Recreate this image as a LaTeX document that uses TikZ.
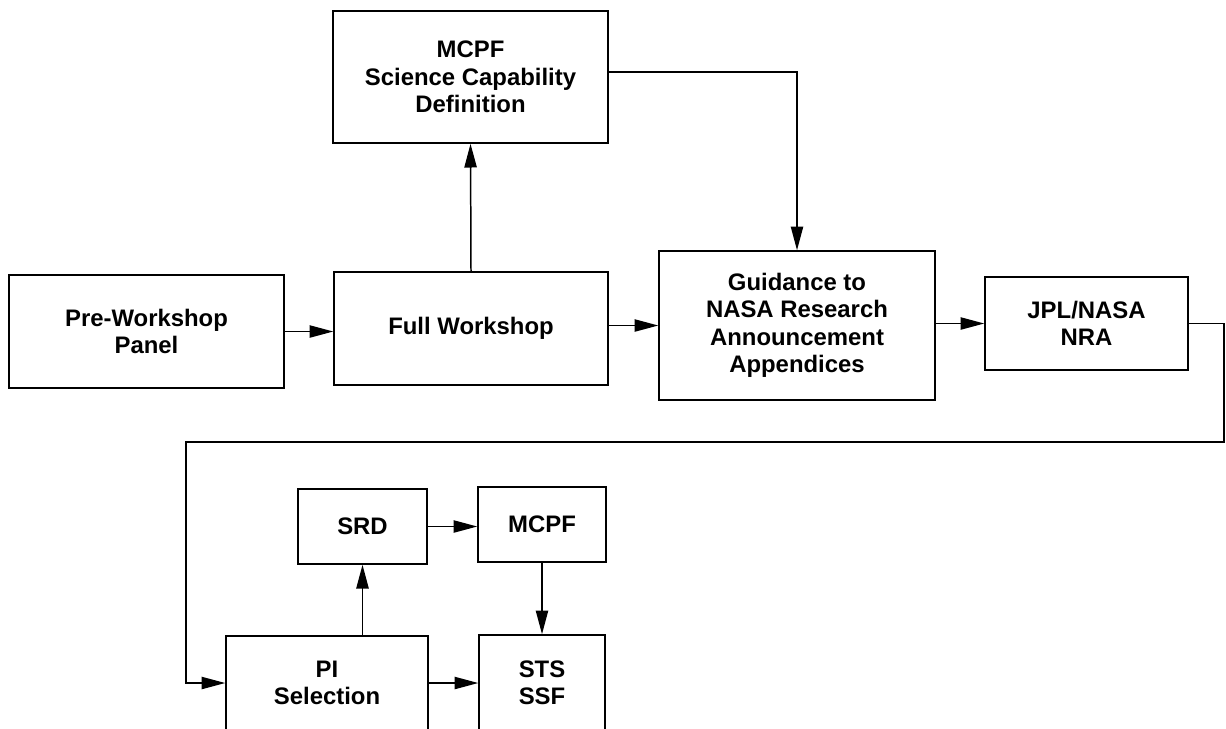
\documentclass[tikz,border=0pt]{standalone}
\usepackage{fontspec}
\setmainfont{Liberation Sans}
\usetikzlibrary{arrows.meta}
\begin{document}
\begin{tikzpicture}[x=0.02cm,y=-0.02cm,
  box/.style={draw,line width=0.9pt,inner sep=0pt,align=center,
    font=\fontsize{13.6}{15.6}\selectfont\bfseries},
  arr/.style={line width=0.85pt,-{Triangle[length=13.5pt,width=7pt]}},
  wire/.style={line width=0.85pt}]
\useasboundingbox (0,0) rectangle (1226,728);
\clip (0,0) rectangle (1226,728);
\node[box,minimum width=5.5cm,minimum height=2.64cm] (mcpf1) at (470.5,77) {MCPF\\Science Capability\\Definition};
\node[box,minimum width=5.5cm,minimum height=2.26cm] (pre) at (146.5,331.5) {Pre-Workshop\\Panel};
\node[box,minimum width=5.48cm,minimum height=2.26cm] (full) at (471,328.5) {Full Workshop};
\node[box,minimum width=5.52cm,minimum height=2.98cm] (guid) at (797,325.5) {Guidance to\\NASA Research\\Announcement\\Appendices};
\node[box,minimum width=4.06cm,minimum height=1.86cm] (jpl) at (1086.5,323.5) {JPL/NASA\\NRA};
\node[box,minimum width=2.58cm,minimum height=1.5cm] (srd) at (362.5,526.5) {SRD};
\node[box,minimum width=2.56cm,minimum height=1.5cm] (mcpf2) at (542,524.5) {MCPF};
\node[box,minimum width=4.04cm,minimum height=1.88cm] (pi) at (327,683) {PI\\Selection};
\node[box,minimum width=2.52cm,minimum height=1.92cm] (sts) at (542,683) {STS\\SSF};
\coordinate (r) at (1224,442);
\coordinate (l) at (186,442);
\draw[arr] (pre.east) -- (pre.east -| full.west);
\draw[arr] (full.east |- guid.west) -- (guid.west);
\draw[arr] (guid.east |- jpl.west) -- (jpl.west);
\draw[arr] (full.north) -- (mcpf1.south);
\draw[arr] ([yshift=0.1cm]mcpf1.east) -| (guid.north);
\draw[arr] (jpl.east) -| (r) -- (l) |- (pi.west);
\draw[arr] (srd.south |- pi.north) -- (srd.south);
\draw[arr] (srd.east) -- (srd.east -| mcpf2.west);
\draw[arr] (mcpf2.south) -- (sts.north);
\draw[arr] (pi.east) -- (sts.west);
\end{tikzpicture}
\end{document}
